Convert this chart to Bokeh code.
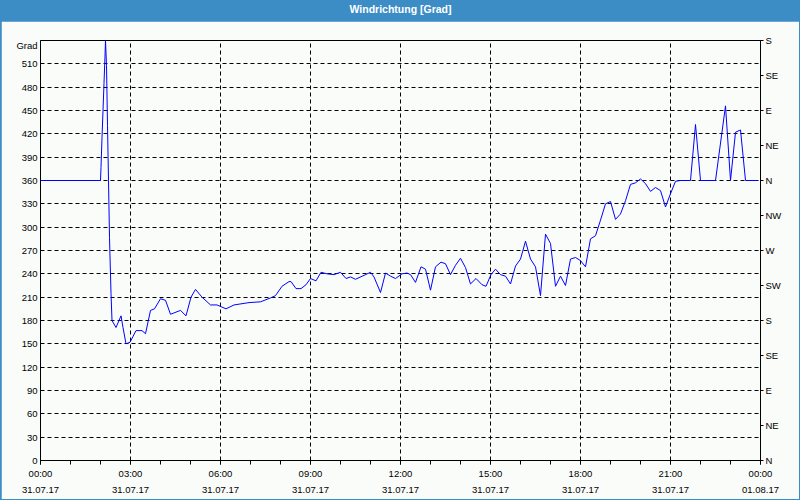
from bokeh.plotting import figure
from bokeh.models import Range1d, LinearAxis, FixedTicker
from bokeh.layouts import column
from bokeh.embed import file_html
from bokeh.resources import INLINE
from bokeh.core.properties import value

# ---- data ----
minutes = [0, 120, 121, 123, 125, 127, 129, 130, 132, 134, 136, 138, 141, 143, 151, 161, 165, 171,
           179, 191, 203, 210, 220, 228, 240, 250, 260, 280, 291, 301, 310, 323, 340, 353, 371, 387,
           407, 417, 440, 460, 470, 483, 497, 501, 511, 521, 531, 540, 551, 561, 573, 587, 600, 611,
           620, 630, 647, 660, 667, 680, 690, 700, 710, 723, 733, 740, 750, 761, 770, 780, 790, 801,
           810, 820, 830, 840, 850, 860, 871, 883, 891, 901, 910, 920, 930, 940, 950, 960, 970, 980,
           990, 1000, 1010, 1020, 1030, 1040, 1050, 1060, 1070, 1080, 1090, 1100, 1110, 1120, 1130,
           1140, 1150, 1160, 1170, 1180, 1190, 1200, 1210, 1220, 1230, 1240, 1250, 1260, 1270, 1280,
           1300, 1310, 1320, 1350, 1370, 1380, 1390, 1400, 1410, 1434]
direction = [360, 360, 377, 415, 450, 485, 520, 540, 508, 431, 360, 287, 215, 180, 171, 186, 171, 150,
             152, 167, 167, 163, 193, 195, 208, 206, 188, 193, 186, 210, 220, 210, 200, 200, 195, 200,
             202, 203, 204, 209, 212, 224, 230, 230, 221, 221, 226, 234, 231, 242, 240, 239, 242, 234,
             236, 233, 238, 242, 236, 216, 241, 237, 234, 240, 241, 239, 229, 249, 246, 219, 249, 255,
             253, 239, 251, 260, 248, 227, 234, 226, 224, 239, 246, 239, 237, 227, 250, 259, 282, 259,
             249, 212, 291, 279, 224, 237, 225, 259, 261, 257, 249, 285, 289, 309, 330, 333, 310, 317,
             334, 355, 357, 362, 356, 346, 351, 347, 326, 343, 359, 360,
             360, 432, 360, 360, 456, 360, 422, 425, 360, 360]

hour_ticks = [0, 3, 6, 9, 12, 15, 18, 21, 24]
hour_labels = ["00:00\n31.07.17", "03:00\n31.07.17", "06:00\n31.07.17", "09:00\n31.07.17",
               "12:00\n31.07.17", "15:00\n31.07.17", "18:00\n31.07.17", "21:00\n31.07.17",
               "00:00\n01.08.17"]
minor_hours = list(range(0, 25))
deg_ticks = list(range(0, 511, 30))
unit_tick = 534
unit_text = "Grad"
compass_ticks = [0, 45, 90, 135, 180, 225, 270, 315, 360, 405, 450, 495, 540]
compass_labels = ["N", "NE", "E", "SE", "S", "SW", "W", "NW", "N", "NE", "E", "SE", "S"]

title_text = "Windrichtung [Grad]"

BLUE = "#3C8DC5"
BG = "#FAFCFA"
FONT = "Liberation Sans"

hours = [m / 60.0 for m in minutes]

# ---- title bar ----
pt = figure(width=800, height=21, toolbar_location=None, output_backend="svg",
            x_axis_type=None, y_axis_type=None, x_range=Range1d(0, 1), y_range=Range1d(0, 1),
            min_border=0, min_border_left=0, min_border_right=0, min_border_top=0, min_border_bottom=0)
pt.background_fill_color = BLUE
pt.border_fill_color = BLUE
pt.outline_line_color = None
pt.grid.visible = False
pt.text(x=[0.5], y=[0.58], text=[title_text], text_align="center", text_baseline="middle",
        text_color="white", text_font=value(FONT), text_font_style="bold", text_font_size="10.5px")

# ---- main chart ----
p = figure(width=798, height=478, toolbar_location=None, output_backend="svg",
           x_range=Range1d(0, 24), y_range=Range1d(0, 540),
           min_border_left=39, min_border_right=39, min_border_top=19, min_border_bottom=39,
           margin=(0, 1, 1, 1))
p.background_fill_color = BG
p.border_fill_color = BG
p.outline_line_color = "black"
p.outline_line_width = 1

p.line(hours, direction, line_color="#0000FF", line_width=1)

# x axis
xa = p.xaxis[0]
xa.ticker = FixedTicker(ticks=hour_ticks, minor_ticks=minor_hours)
xa.major_label_overrides = {t: l for t, l in zip(hour_ticks, hour_labels)}
xa.major_label_text_font = FONT
xa.major_label_text_font_size = "9.5px"
xa.major_label_text_color = "black"
xa.major_label_text_line_height = 1.5
xa.major_tick_out = 4
xa.major_tick_in = 0
xa.minor_tick_out = 4
xa.minor_tick_in = 0
xa.major_label_standoff = 3
xa.axis_line_color = "black"
xa.major_tick_line_color = "black"
xa.minor_tick_line_color = "black"

# left axis (degree values plus the unit caption near the top)
ya = p.yaxis[0]
ya.ticker = FixedTicker(ticks=deg_ticks + [unit_tick], minor_ticks=[])
ya.major_label_overrides = {unit_tick: unit_text}
ya.major_label_text_font = FONT
ya.major_label_text_font_size = "9.5px"
ya.major_label_text_color = "black"
ya.major_tick_out = 0
ya.major_tick_in = 0
ya.minor_tick_out = 0
ya.major_label_standoff = 3
ya.axis_line_color = "black"

# right axis
ra = LinearAxis(ticker=FixedTicker(ticks=compass_ticks, minor_ticks=[]))
ra.major_label_overrides = {t: l for t, l in zip(compass_ticks, compass_labels)}
ra.major_label_text_font = FONT
ra.major_label_text_font_size = "9.5px"
ra.major_label_text_color = "black"
ra.major_tick_out = 3
ra.major_tick_in = 0
ra.minor_tick_out = 0
ra.major_label_standoff = 2
ra.axis_line_color = "black"
ra.major_tick_line_color = "black"
p.add_layout(ra, "right")

# grids
p.xgrid.ticker = FixedTicker(ticks=hour_ticks)
p.ygrid.ticker = FixedTicker(ticks=deg_ticks)
for g in (p.xgrid[0], p.ygrid[0]):
    g.grid_line_color = "black"
    g.grid_line_dash = "4 3"
    g.grid_line_width = 1

layout = column(pt, p, spacing=0, styles={"background-color": BLUE})

open("out.html", "w").write(file_html(layout, INLINE))
